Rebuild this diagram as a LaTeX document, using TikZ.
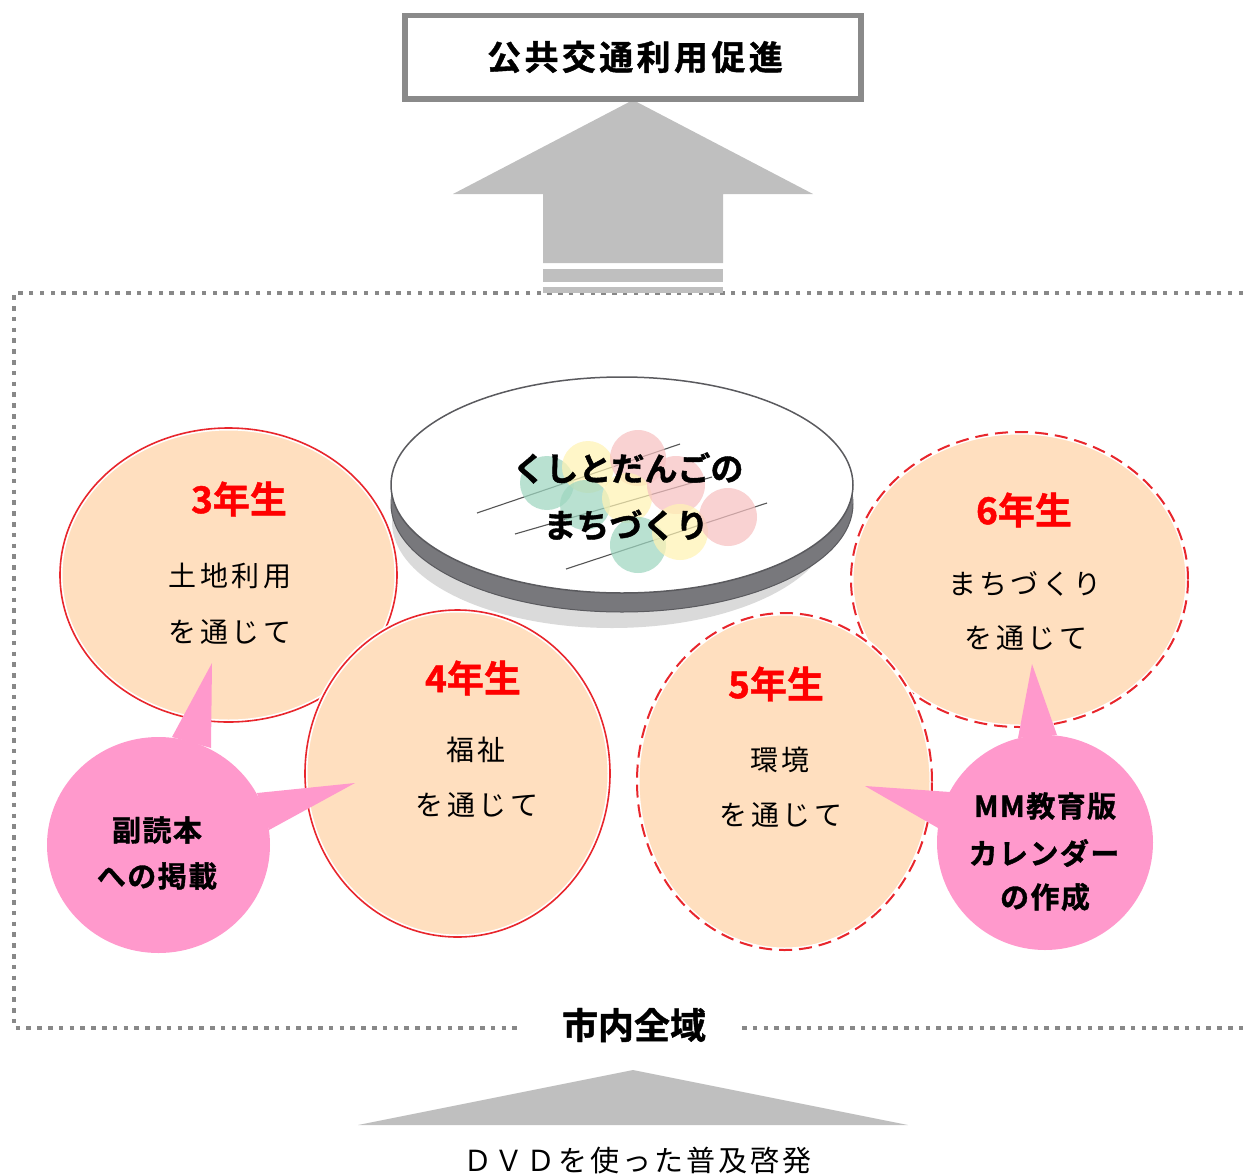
\documentclass[tikz,border=0pt]{standalone}
\usepackage{fontspec}
\setmainfont{Noto Sans CJK JP}[BoldFont={Noto Sans CJK JP Bold},BoldFeatures={FakeBold=1.2}]
\definecolor{arrowgray}{HTML}{BFBFBF}
\definecolor{boxgray}{HTML}{8A8A8A}
\definecolor{dotgray}{HTML}{888888}
\definecolor{peach}{HTML}{FFDFBF}
\definecolor{ringred}{HTML}{E8262C}
\definecolor{bubblepink}{HTML}{FF99CC}
\definecolor{rimgray}{HTML}{78787C}
\definecolor{rimedge}{HTML}{5A5A5E}
\definecolor{shadowgray}{HTML}{DADADA}
\definecolor{dgreen}{HTML}{9ED6C0}
\definecolor{dyellow}{HTML}{FFF3B4}
\definecolor{dpink}{HTML}{F7C2C2}
\definecolor{stickgray}{HTML}{555555}
\newcommand\titlefont{\bfseries\fontsize{34pt}{40pt}\selectfont\addfontfeatures{LetterSpace=10}}
\newcommand\areafont{\bfseries\fontsize{36pt}{42pt}\selectfont}
\newcommand\dishfont{\bfseries\fontsize{33pt}{38pt}\selectfont}
\newcommand\gradefont{\bfseries\fontsize{37pt}{42pt}\selectfont}
\newcommand\plainfont{\fontsize{28pt}{32pt}\selectfont\addfontfeatures{LetterSpace=12}}
\newcommand\bubblefont{\bfseries\fontsize{29pt}{34pt}\selectfont\addfontfeatures{LetterSpace=5}}
\newcommand\dvdfont{\fontsize{29pt}{34pt}\selectfont\addfontfeatures{LetterSpace=10}}
\begin{document}
\begin{tikzpicture}[x=1pt,y=-1pt,
  txt/.style={inner sep=0pt, anchor=center},
  gradelabel/.style={txt, text=red, font=\gradefont},
  bodylabel/.style={txt, font=\plainfont},
  bubblelabel/.style={txt, font=\bubblefont},
  framedots/.style={draw=dotgray, line width=4.5pt, dash pattern=on 4.5pt off 6.3pt},
  solidring/.style={draw=ringred, line width=1.6pt},
  dashring/.style={draw=ringred, line width=2pt, dash pattern=on 13pt off 7pt},
  halo/.style={draw=white, line width=5pt, fill=peach},
  stick/.style={draw=stickgray, line width=1.1pt},
  dango/.style={fill=#1, fill opacity=0.72}
]
\useasboundingbox (0,0) rectangle (1243,1176);

% ---- dotted frame (open on the right) ----
\coordinate (fTL) at (14,293);
\coordinate (fTR) at (1243,293);
\coordinate (fBL) at (14,1028);
\coordinate (fBR) at (1243,1028);
\coordinate (gapL) at (522,1028);
\coordinate (gapR) at (742,1028);
\draw[framedots] (fTR) -- (fTL) -- (fBL) -- (gapL);
\draw[framedots] (gapR) -- (fBR);
\node[txt, font=\areafont] (area) at (634,1025) {市内全域};

% ---- upward arrow ----
\fill[arrowgray] (633,100) -- (813,194) -- (723,194) -- (723,263)
  -- (543,263) -- (543,194) -- (453,194) -- cycle;
\fill[arrowgray] (543,269) rectangle (723,282);
\fill[arrowgray] (543,287) rectangle (723,293);

% ---- goal box ----
\draw[draw=boxgray, line width=5.5pt, fill=white] (405,15.5) rectangle (861,99);
\node[txt, font=\titlefont] (goal) at (635,57) {公共交通利用促進};

% ---- bottom wedge and caption ----
\fill[arrowgray] (633,1070) -- (908,1125) -- (358,1125) -- cycle;
\node[txt, font=\dvdfont] (dvd) at (637,1161) {ＤＶＤを使った普及啓発};

% ---- plate with dango ----
\fill[shadowgray] (612,522) ellipse [x radius=220pt, y radius=106pt];
\filldraw[fill=rimgray, draw=rimedge, line width=1pt] (622,504) ellipse [x radius=231pt, y radius=108pt];
\fill[rimgray] (391,485) rectangle (853,504);
\filldraw[fill=white, draw=rimedge, line width=1.5pt] (622,485) ellipse [x radius=231pt, y radius=108pt];

\draw[stick] (477,513) -- (680,444);
\draw[stick] (515,534) -- (712,477);
\draw[stick] (566,569) -- (767,503);
\fill[dango=dgreen]  (547,483) circle [radius=27pt];
\fill[dango=dyellow] (588,467) circle [radius=26pt];
\fill[dango=dpink]   (638,458) circle [radius=28pt];
\fill[dango=dgreen]  (585,505) circle [radius=25pt];
\fill[dango=dyellow] (627,498) circle [radius=25pt];
\fill[dango=dpink]   (676,485) circle [radius=29pt];
\fill[dango=dgreen]  (638,545) circle [radius=28pt];
\fill[dango=dyellow] (680,532) circle [radius=28pt];
\fill[dango=dpink]   (728,517) circle [radius=29pt];
\node[txt, font=\dishfont] (dish1) at (628,468) {くしとだんごの};
\node[txt, font=\dishfont] (dish2) at (626,525) {まちづくり};

% ---- grade circles ----
\path[halo] (228.5,575) ellipse [x radius=168.5pt, y radius=147pt];
\draw[solidring] (228.5,575) ellipse [x radius=168.5pt, y radius=147pt];
\path[halo] (457.5,773.5) ellipse [x radius=152.5pt, y radius=163.5pt];
\draw[solidring] (457.5,773.5) ellipse [x radius=152.5pt, y radius=163.5pt];
\path[halo] (1019.5,579.5) ellipse [x radius=168.5pt, y radius=147.5pt];
\draw[dashring] (1019.5,579.5) ellipse [x radius=168.5pt, y radius=147.5pt];
\path[halo] (784.5,781.5) ellipse [x radius=147.5pt, y radius=168.5pt];
\draw[dashring] (784.5,781.5) ellipse [x radius=147.5pt, y radius=168.5pt];

\node[gradelabel] (g3) at (239,499) {3年生};
\node[bodylabel] (g3a) at (230,576) {土地利用};
\node[bodylabel] (g3b) at (230,632) {を通じて};

\node[gradelabel] (g4) at (473,678) {4年生};
\node[bodylabel] (g4a) at (476,750) {福祉};
\node[bodylabel] (g4b) at (477,805) {を通じて};

\node[gradelabel] (g5) at (776,684) {5年生};
\node[bodylabel] (g5a) at (780,760) {環境};
\node[bodylabel] (g5b) at (781,815) {を通じて};

\node[gradelabel] (g6) at (1024,510) {6年生};
\node[bodylabel] (g6a) at (1025,584) {まちづくり};
\node[bodylabel] (g6b) at (1026,638) {を通じて};

% ---- speech bubbles ----
\fill[bubblepink] (158.5,845) ellipse [x radius=111.5pt, y radius=108pt];
\fill[bubblepink] (172,737) -- (212,663) -- (211,748) -- cycle;
\fill[bubblepink] (257,793) -- (355,783) -- (269,830) -- cycle;
\node[bubblelabel] (b1a) at (157,830) {副読本};
\node[bubblelabel] (b1b) at (157,876) {への掲載};

\fill[bubblepink] (1045,842.5) ellipse [x radius=108pt, y radius=107.5pt];
\fill[bubblepink] (1018,738) -- (1032,664) -- (1057,735) -- cycle;
\fill[bubblepink] (950,792) -- (865,786) -- (938,828) -- cycle;
\node[bubblelabel] (b2a) at (1045,806) {MM教育版};
\node[bubblelabel] (b2b) at (1044,853) {カレンダー};
\node[bubblelabel] (b2c) at (1045,897) {の作成};
\end{tikzpicture}
\end{document}
